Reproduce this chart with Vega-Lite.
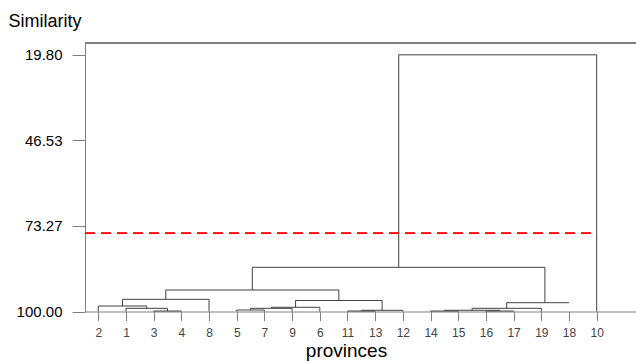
{
  "$schema": "https://vega.github.io/schema/vega-lite/v6.json",
  "width": 551,
  "height": 268.5,
  "autosize": {"type": "none"},
  "padding": {"left": 85, "top": 43, "right": 0, "bottom": 52},
  "background": "white",
  "config": {
    "view": {"stroke": null},
    "font": "Liberation Sans"
  },
  "datasets": {
    "merges": [
      {"id": "A", "left": 3, "right": 4, "h": 99.85, "hl": 100, "hr": 100},
      {"id": "B", "left": 2, "right": 3.5, "h": 99.0, "hl": 100, "hr": 99.85},
      {"id": "C", "left": 1, "right": 2.75, "h": 98.28, "hl": 100, "hr": 99.0},
      {"id": "D", "left": 1.875, "right": 5, "h": 96.19, "hl": 98.28, "hr": 100},
      {"id": "E", "left": 6, "right": 7, "h": 99.53, "hl": 100, "hr": 100},
      {"id": "F", "left": 6.5, "right": 8, "h": 99.0, "hl": 99.53, "hr": 100},
      {"id": "G", "left": 7.25, "right": 9, "h": 98.69, "hl": 99.0, "hr": 100},
      {"id": "H", "left": 10, "right": 11, "h": 99.85, "hl": 100, "hr": 100},
      {"id": "I", "left": 10.5, "right": 12, "h": 99.62, "hl": 99.85, "hr": 100},
      {"id": "J", "left": 8.125, "right": 11.25, "h": 96.56, "hl": 98.69, "hr": 99.62},
      {"id": "K", "left": 3.4375, "right": 9.6875, "h": 93.28, "hl": 96.19, "hr": 96.56},
      {"id": "L", "left": 13, "right": 14, "h": 99.85, "hl": 100, "hr": 100},
      {"id": "M", "left": 15, "right": 16, "h": 99.85, "hl": 100, "hr": 100},
      {"id": "N", "left": 13.5, "right": 15.5, "h": 99.62, "hl": 99.85, "hr": 99.85},
      {"id": "O", "left": 14.5, "right": 17, "h": 99.0, "hl": 99.62, "hr": 100},
      {"id": "P", "left": 15.75, "right": 18, "h": 97.25, "hl": 99.0, "hr": 97.25},
      {"id": "Q", "left": 6.5625, "right": 17.13, "h": 86.19, "hl": 93.28, "hr": 97.25},
      {"id": "R", "left": 11.85, "right": 19, "h": 19.8, "hl": 86.19, "hr": 100}
    ]
  },
  "data": {"name": "merges"},
  "encoding": {
    "x": {
      "field": "left",
      "type": "quantitative",
      "scale": {"domain": [0.52, 20.42], "nice": false, "zero": false},
      "axis": {
        "values": [1, 2, 3, 4, 5, 6, 7, 8, 9, 10, 11, 12, 13, 14, 15, 16, 17, 18, 19],
        "labelExpr": "['2','1','3','4','8','5','7','9','6','11','13','12','14','15','16','17','19','18','10'][datum.value - 1]",
        "grid": false,
        "domainColor": "#808080",
        "tickColor": "#808080",
        "tickSize": 9,
        "labelPadding": 7,
        "labelFontSize": 12,
        "labelColor": "#444444",
        "title": "provinces",
        "titleX": 261,
        "titleAlign": "center",
        "titleFontSize": 19,
        "titleFontWeight": "normal",
        "titleColor": "#000000",
        "titlePadding": 3
      }
    },
    "y": {
      "field": "h",
      "type": "quantitative",
      "scale": {"domain": [16.1, 100], "reverse": true, "nice": false, "zero": false},
      "axis": {
        "values": [19.8, 46.53, 73.27, 100],
        "format": ".2f",
        "grid": false,
        "domainColor": "#808080",
        "tickColor": "#808080",
        "tickSize": 13,
        "labelPadding": 10,
        "labelFontSize": 15,
        "labelColor": "#000000",
        "title": "Similarity",
        "titleAngle": 0,
        "titleAlign": "left",
        "titleBaseline": "alphabetic",
        "titleX": -77,
        "titleY": -17,
        "titleFontSize": 18,
        "titleFontWeight": "normal",
        "titleColor": "#000000"
      }
    }
  },
  "layer": [
    {
      "mark": {"type": "rule", "color": "#404040", "strokeWidth": 1},
      "encoding": {"x2": {"field": "right"}}
    },
    {
      "mark": {"type": "rule", "color": "#404040", "strokeWidth": 1},
      "encoding": {"y": {"field": "hl", "type": "quantitative"}, "y2": {"field": "h"}}
    },
    {
      "mark": {"type": "rule", "color": "#404040", "strokeWidth": 1},
      "encoding": {"x": {"field": "right", "type": "quantitative"}, "y": {"field": "hr", "type": "quantitative"}, "y2": {"field": "h"}}
    },
    {
      "mark": {"type": "rule", "color": "#808080", "strokeWidth": 1.2},
      "encoding": {"x": {"datum": 0.52}, "x2": {"datum": 20.42}, "y": {"datum": 16.1}}
    },
    {
      "mark": {"type": "rule", "color": "#ff0000", "strokeWidth": 1, "strokeDash": [10, 6]},
      "encoding": {"x": {"datum": 0.52}, "x2": {"datum": 19}, "y": {"datum": 75.6}}
    }
  ]
}
